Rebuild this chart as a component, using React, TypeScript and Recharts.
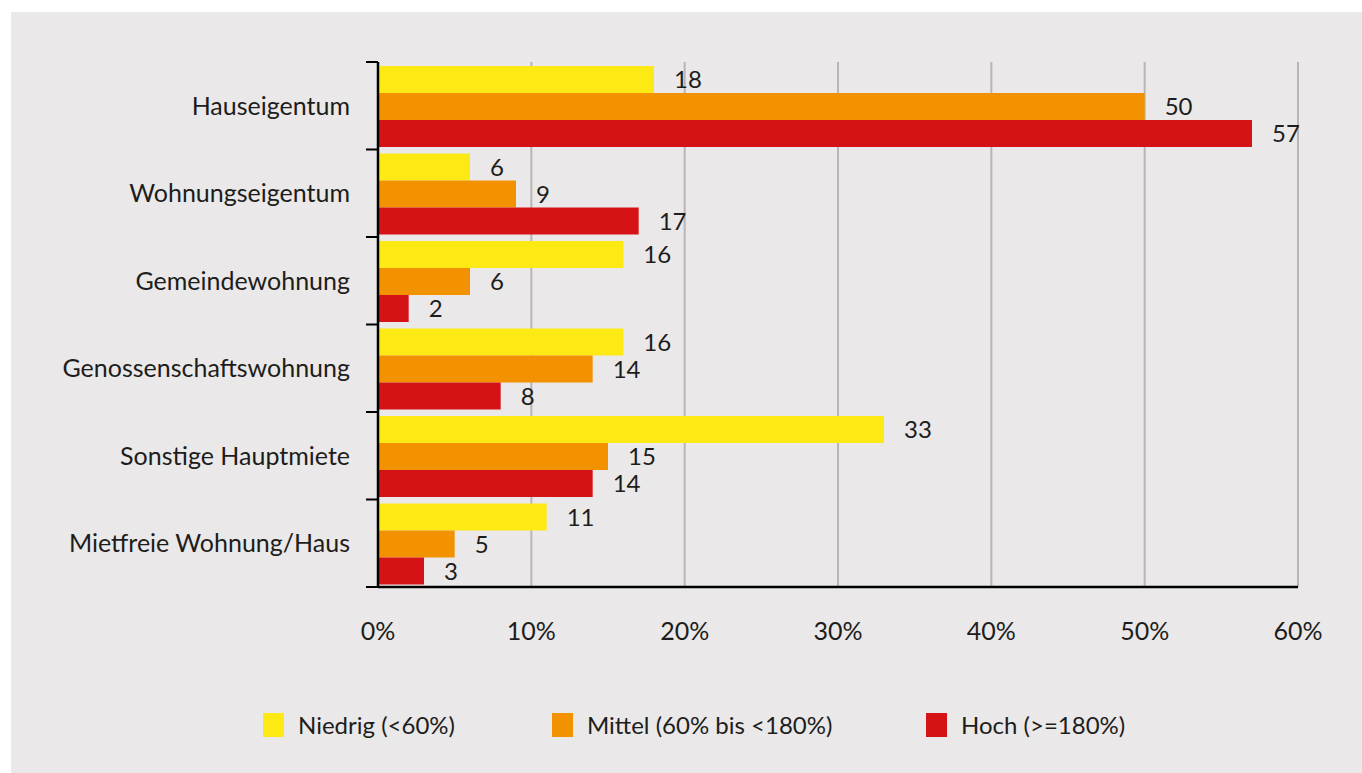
import { BarChart, Bar, XAxis, YAxis, CartesianGrid, LabelList } from 'recharts';

const categories = [
  'Hauseigentum',
  'Wohnungseigentum',
  'Gemeindewohnung',
  'Genossenschaftswohnung',
  'Sonstige Hauptmiete',
  'Mietfreie Wohnung/Haus',
];
const niedrig = [18, 6, 16, 16, 33, 11];
const mittel = [50, 9, 6, 14, 15, 5];
const hoch = [57, 17, 2, 8, 14, 3];
const xTicks = [0, 10, 20, 30, 40, 50, 60];

const series = [
  { key: 'niedrig', name: 'Niedrig (<60%)', color: '#fdea14', legendWidth: 289 },
  { key: 'mittel', name: 'Mittel (60% bis <180%)', color: '#f39200', legendWidth: 374 },
  { key: 'hoch', name: 'Hoch (>=180%)', color: '#d51317', legendWidth: 240 },
];

const data = categories.map((name, i) => ({
  name,
  niedrig: niedrig[i],
  mittel: mittel[i],
  hoch: hoch[i],
}));

const FONT = 'Lato, "Noto Sans", sans-serif';
const TEXT = '#1d1d1b';

const CHART_W = 1351;
const CHART_H = 640;
const MARGIN = { top: 50, right: 64, left: 0, bottom: 5 };
const X_AXIS_H = 60;
const LABEL_GAP = 28;
const TICK_LEN = 12;
// height of one category band, used for the boundary tick marks
const BAND = (CHART_H - MARGIN.top - MARGIN.bottom - X_AXIS_H) / categories.length;

const CategoryTick = (props: any) => {
  const { x, y, payload, index } = props;
  const lx = x + LABEL_GAP;
  return (
    <g>
      <text
        x={x}
        y={y}
        dy="0.355em"
        textAnchor="end"
        fill={TEXT}
        fontSize={25}
        fontFamily={FONT}
      >
        {payload.value}
      </text>
      <line x1={lx - TICK_LEN} x2={lx} y1={y - BAND / 2} y2={y - BAND / 2} stroke="#000" strokeWidth={2} />
      {index === categories.length - 1 && (
        <line x1={lx - TICK_LEN} x2={lx} y1={y + BAND / 2} y2={y + BAND / 2} stroke="#000" strokeWidth={2} />
      )}
    </g>
  );
};

export default function App() {
  return (
    <div
      style={{
        position: 'absolute',
        left: 11,
        top: 12,
        width: 1351,
        height: 761,
        background: '#eae8e9',
        fontFamily: FONT,
      }}
    >
      <BarChart
        width={CHART_W}
        height={CHART_H}
        data={data}
        layout="vertical"
        margin={MARGIN}
        barCategoryGap={4}
        barGap={0}
      >
        <CartesianGrid horizontal={false} stroke="#bab4b7" strokeWidth={2} />
        <YAxis
          type="category"
          dataKey="name"
          width={367}
          axisLine={{ stroke: '#000', strokeWidth: 2.5 }}
          tickLine={false}
          tickSize={0}
          tickMargin={LABEL_GAP}
          tick={CategoryTick}
        />
        <XAxis
          type="number"
          domain={[0, 60]}
          ticks={xTicks}
          tickFormatter={(v: number) => `${v}%`}
          height={X_AXIS_H}
          axisLine={{ stroke: '#000', strokeWidth: 2.5 }}
          tickLine={false}
          tickSize={0}
          tickMargin={35}
          tick={{ fill: TEXT, fontSize: 25, fontFamily: FONT }}
        />
        {series.map((s) => (
          <Bar
            key={s.key}
            dataKey={s.key}
            name={s.name}
            fill={s.color}
            isAnimationActive={false}
          >
            <LabelList
              dataKey={s.key}
              position="right"
              offset={20}
              fill={TEXT}
              fontSize={24}
              fontFamily={FONT}
            />
          </Bar>
        ))}
      </BarChart>
      <div
        style={{
          position: 'absolute',
          left: 252,
          top: 698,
          display: 'flex',
          alignItems: 'center',
        }}
      >
        {series.map((s) => (
          <div
            key={s.key}
            style={{ width: s.legendWidth, display: 'flex', alignItems: 'center' }}
          >
            <span
              style={{
                display: 'inline-block',
                width: 21,
                height: 24,
                background: s.color,
                marginRight: 14,
              }}
            />
            <span style={{ fontSize: 24, color: TEXT, whiteSpace: 'nowrap' }}>{s.name}</span>
          </div>
        ))}
      </div>
    </div>
  );
}
